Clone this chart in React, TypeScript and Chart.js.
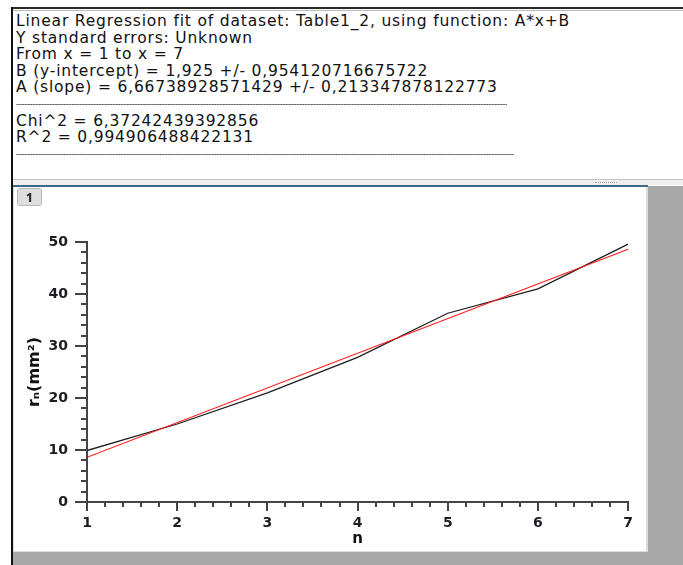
import React, { useEffect, useRef, useState } from 'react';
import { Chart, registerables } from 'chart.js';

Chart.register(...registerables);

// ---- data ----
const nValues = [1, 2, 3, 4, 5, 6, 7];
const rValues = [9.9, 15.0, 21.0, 27.8, 36.3, 41.0, 49.6];
const fitX = [1, 7];
const fitY = [8.59, 48.6];
const xTickLabels = ['1', '2', '3', '4', '5', '6', '7'];
const yTickLabels = ['0', '10', '20', '30', '40', '50'];
const reportTop = [
  'Linear Regression fit of dataset: Table1_2, using function: A*x+B',
  'Y standard errors: Unknown',
  'From x = 1 to x = 7',
  'B (y-intercept) = 1,925 +/- 0,954120716675722',
  'A (slope) = 6,66738928571429 +/- 0,213347878122773',
];
const reportBottom = ['Chi^2 = 6,37242439392856', 'R^2 = 0,994906488422131'];

const tickFont = 'DejaVu Sans';
const reportFont = '"DejaVu Sans", sans-serif';
const reportSize = 15.5;
const reportTargetWidth = 554;

const axisPlugin = {
  id: 'qtiAxes',
  afterDatasetsDraw(chart: any) {
    const { ctx } = chart;
    const xs = chart.scales.x;
    const ys = chart.scales.y;
    const ax = Math.round(xs.getPixelForValue(xs.min));
    const ay = Math.round(ys.getPixelForValue(ys.min));
    const yTop = Math.round(ys.getPixelForValue(ys.max));
    const xRight = Math.round(xs.getPixelForValue(xs.max));
    ctx.save();
    ctx.strokeStyle = '#454545';
    ctx.lineWidth = 2;
    ctx.lineCap = 'butt';
    ctx.beginPath();
    ctx.moveTo(ax, yTop - 1);
    ctx.lineTo(ax, ay + 1);
    ctx.moveTo(ax - 1, ay);
    ctx.lineTo(xRight + 1, ay);
    ctx.stroke();
    ctx.beginPath();
    for (let i = 0; i <= 25; i++) {
      const v = ys.min + i * 2;
      const py = Math.round(ys.getPixelForValue(v));
      const len = i % 5 === 0 ? 12 : 6;
      ctx.moveTo(ax - len, py);
      ctx.lineTo(ax, py);
    }
    for (let i = 0; i <= 30; i++) {
      const v = xs.min + i / 5;
      const px = Math.round(xs.getPixelForValue(v));
      const len = i % 5 === 0 ? 9 : 5;
      ctx.moveTo(px, ay);
      ctx.lineTo(px, ay + len);
    }
    ctx.stroke();
    ctx.restore();
  },
};

function Plot() {
  const ref = useRef<HTMLCanvasElement | null>(null);
  useEffect(() => {
    if (!ref.current) return;
    const chart = new Chart(ref.current, {
      type: 'line',
      data: {
        datasets: [
          {
            label: 'Table1_2',
            data: nValues.map((n, i) => ({ x: n, y: rValues[i] })),
            borderColor: '#1e1e1e',
            borderWidth: 1.3,
            pointRadius: 0,
            tension: 0,
            fill: false,
            order: 2,
          },
          {
            label: 'LinearFit1',
            data: fitX.map((n, i) => ({ x: n, y: fitY[i] })),
            borderColor: '#ff1a1a',
            borderWidth: 1.1,
            pointRadius: 0,
            tension: 0,
            fill: false,
            order: 1,
          },
        ],
      },
      options: {
        animation: false,
        responsive: false,
        maintainAspectRatio: false,
        devicePixelRatio: 1,
        layout: { padding: { top: 55, right: 17, left: 0, bottom: 0 } },
        plugins: { legend: { display: false }, tooltip: { enabled: false } },
        scales: {
          x: {
            type: 'linear',
            min: 1,
            max: 7,
            grid: { display: false, drawTicks: false },
            border: { display: false },
            ticks: {
              stepSize: 1,
              padding: 13,
              autoSkip: false,
              maxRotation: 0,
              color: '#1c1c24',
              font: { family: tickFont, size: 14, weight: 'bold' },
              callback: (_v: any, i: number) => xTickLabels[i],
            },
            title: {
              display: true,
              text: 'n',
              color: '#111',
              font: { family: tickFont, size: 15, weight: 'bold' },
              padding: { top: 0, bottom: 3 },
            },
            afterFit: (s: any) => {
              s.height = 49;
            },
          },
          y: {
            type: 'linear',
            min: 0,
            max: 50,
            grid: { display: false, drawTicks: false },
            border: { display: false },
            ticks: {
              stepSize: 10,
              padding: 19,
              color: '#1c1c24',
              font: { family: tickFont, size: 14, weight: 'bold' },
              callback: (_v: any, i: number) => yTickLabels[i],
            },
            title: {
              display: true,
              text: 'rₙ(mm²)',
              color: '#111',
              font: { family: tickFont, size: 16, weight: 'bold' },
              padding: { top: 11, bottom: 0 },
            },
            afterFit: (s: any) => {
              s.width = 73;
            },
          },
        },
      },
      plugins: [axisPlugin],
    } as any);
    return () => chart.destroy();
  }, []);
  return <canvas ref={ref} width={632} height={364} style={{ display: 'block', width: 632, height: 364 }} />;
}

function measureSpacing(): number {
  try {
    const c = document.createElement('canvas');
    const ctx = c.getContext('2d');
    if (!ctx) return 0;
    ctx.font = `${reportSize}px ${reportFont}`;
    const line = reportTop[0];
    const w = ctx.measureText(line).width;
    return (reportTargetWidth - w) / line.length;
  } catch (e) {
    return 0;
  }
}

export default function App() {
  const [spacing] = useState<number>(() => measureSpacing());
  const textStyle: React.CSSProperties = {
    fontFamily: reportFont,
    fontSize: reportSize,
    letterSpacing: `${spacing}px`,
    lineHeight: '16.6px',
    color: '#111',
    whiteSpace: 'pre',
  };
  const dash = (w: number) => (
    <div style={{ width: w, overflow: 'hidden', height: 16.6, color: '#333', fontSize: 9, lineHeight: '16.6px', letterSpacing: '-0.5px' }}>
      {'-'.repeat(220)}
    </div>
  );
  return (
    <div style={{ position: 'absolute', left: 0, top: 0, width: 683, height: 565, background: '#fff', overflow: 'hidden' }}>
      <div style={{ position: 'absolute', left: 12, top: 7, width: 671, height: 2, background: '#2a2a2a' }} />
      <div style={{ position: 'absolute', left: 12, top: 10, width: 671, height: 1, background: '#bdbdbd' }} />
      <div style={{ position: 'absolute', left: 11, top: 7, width: 2, height: 558, background: '#111' }} />
      <div style={{ position: 'absolute', left: 16, top: 13, ...textStyle }}>
        {reportTop.map((l, i) => (
          <div key={'t' + i}>{l}</div>
        ))}
        {dash(491)}
        {reportBottom.map((l, i) => (
          <div key={'b' + i}>{l}</div>
        ))}
        {dash(498)}
      </div>
      <div style={{ position: 'absolute', left: 13, top: 179, width: 670, height: 1, background: '#c4c4c4' }} />
      <div style={{ position: 'absolute', left: 13, top: 180, width: 670, height: 5, background: '#efefef' }} />
      <div style={{ position: 'absolute', left: 595, top: 182, width: 22, height: 1, borderTop: '1px dotted #a0a0a0' }} />
      <div style={{ position: 'absolute', left: 13, top: 186, width: 670, height: 379, background: '#a8a8a8' }} />
      <div style={{ position: 'absolute', left: 13, top: 185, width: 635, height: 367, background: '#dcdcdc' }} />
      <div style={{ position: 'absolute', left: 13, top: 185, width: 635, height: 2, background: '#3e6a88' }} />
      <div style={{ position: 'absolute', left: 14, top: 187, width: 632, height: 364, background: '#fff' }}>
        <Plot />
      </div>
      <div
        style={{
          position: 'absolute',
          left: 17,
          top: 188,
          width: 23,
          height: 16,
          background: '#dedede',
          border: '1px solid #b8b8b8',
          borderRadius: 3,
          fontFamily: '"Noto Sans", sans-serif',
          fontSize: 13,
          fontWeight: 'bold',
          lineHeight: '16px',
          textAlign: 'center',
          color: '#222',
        }}
      >
        1
      </div>
    </div>
  );
}
